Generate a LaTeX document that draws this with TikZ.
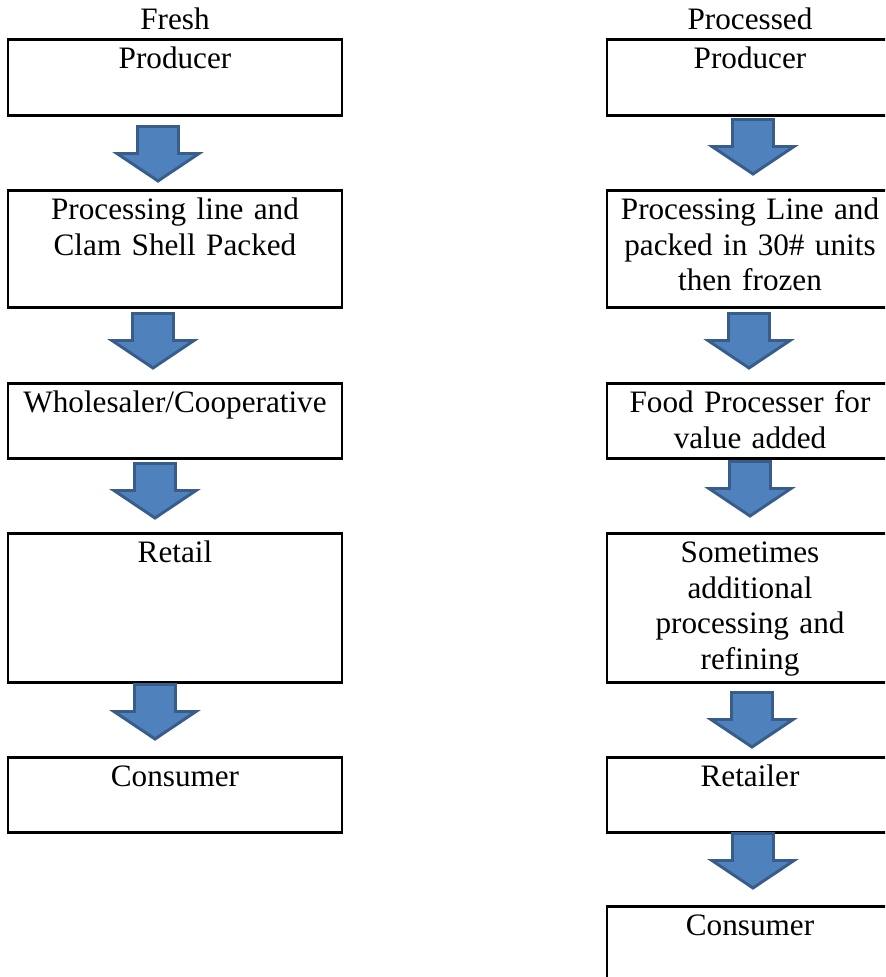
\documentclass[tikz,border=0pt]{standalone}
\usepackage{fontspec}
\setmainfont{Liberation Serif}
\usepackage{xcolor}
\definecolor{arrowfill}{HTML}{4F81BD}
\definecolor{arrowline}{HTML}{385D8A}
\tikzset{
	stage/.style={
			draw, line width=2.1pt, inner xsep=0pt, inner ysep=0pt,
			anchor=north, align=center, text height=22.1pt, text depth=#1
		},
	fresh/.style={stage=#1, minimum width=250.5pt, text width=250pt},
	proc/.style={stage=#1, minimum width=214.5pt, text width=214pt},
	flow/.style={fill=arrowfill, draw=arrowline, line width=2.2pt}
}
% block arrow pointing down, hung from the named coordinate #1
\newcommand{\blockarrow}[1]{
	\draw[flow] (#1) ++(-20.5,0) -- ++(41,0) -- ++(0,27) -- ++(20.5,0)
		-- ++(-41,27.5) -- ++(-41,-27.5) -- ++(20.5,0) -- cycle;
}

\begin{document}
\begin{tikzpicture}[x=0.75pt,y=-0.75pt]
	\fontsize{23.4}{26.6}\selectfont
	\clip (0,0) rectangle (885,977);

	\node[anchor=base] (fresh) at (175,30) {Fresh};
	\node[anchor=base] (processed) at (750,30) {Processed};

	% fresh chain
	\node[fresh=34.9pt] (f1) at (175,38) {Producer};
	\node[fresh=65.6pt] (f2) at (175,189) {Processing line and\\Clam Shell Packed};
	\node[fresh=34.1pt] (f3) at (175,382) {Wholesaler/Cooperative};
	\node[fresh=89.6pt] (f4) at (175,532) {Retail};
	\node[fresh=34.1pt] (f5) at (175,756) {Consumer};

	\coordinate (fa1) at (158,126.5);
	\coordinate (fa2) at (153,313.5);
	\coordinate (fa3) at (155,463.5);
	\coordinate (fa4) at (155,684.5);
	\foreach \a in {fa1,fa2,fa3,fa4} {\blockarrow{\a}}

	% processed chain
	\node[proc=34.9pt] (p1) at (750,38) {Producer};
	\node[proc=65.6pt] (p2) at (750,189) {Processing Line and\\packed in 30\# units\\then frozen};
	\node[proc=34.1pt] (p3) at (750,382) {Food Processer for\\value added};
	\node[proc=89.6pt] (p4) at (750,532) {Sometimes\\additional\\processing and\\refining};
	\node[proc=34.1pt] (p5) at (750,756) {Retailer};
	\node[proc=34.1pt] (p6) at (750,905) {Consumer};

	\coordinate (pa1) at (753,119.5);
	\coordinate (pa2) at (749,313.5);
	\coordinate (pa3) at (750,461.5);
	\coordinate (pa4) at (752,692.5);
	\coordinate (pa5) at (753,833.5);
	\foreach \a in {pa1,pa2,pa3,pa4,pa5} {\blockarrow{\a}}
\end{tikzpicture}
\end{document}
